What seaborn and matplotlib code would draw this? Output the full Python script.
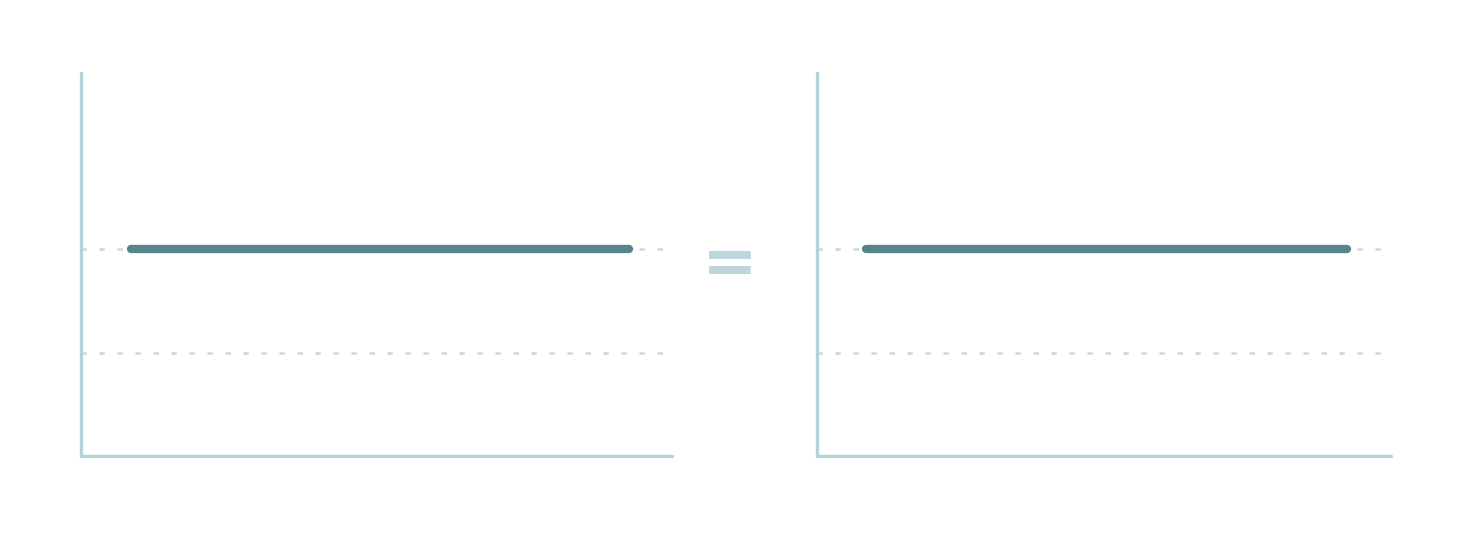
import matplotlib
matplotlib.use("Agg")
import matplotlib.pyplot as plt
import seaborn as sns
import pandas as pd

# Data
panels = ["left", "right"]
line_x_left = [0.85, 9.27]
line_x_right = [0.85, 9.23]
line_y = [2, 2]
grid_levels = [1, 2]
y_max = 3.7
x_max = 10

spine_color = "#b3d2d9"
grid_color = "#c3dde2"
line_color = "#55848c"
eq_color = "#bcd6dc"

sns.set_theme(style="white")
plt.rcParams['font.family'] = ['DejaVu Sans']

fig = plt.figure(figsize=(14.61, 5.40), dpi=100)
ax_l = fig.add_axes([0.0554, 0.1556, 0.4045, 0.709])
ax_r = fig.add_axes([0.5592, 0.1556, 0.3929, 0.709])

for ax, xs in [(ax_l, line_x_left), (ax_r, line_x_right)]:
    df = pd.DataFrame({"x": xs, "y": line_y})
    for g in grid_levels:
        ax.axhline(g, color=grid_color, lw=1.8, linestyle=(0, (2.2, 5.0)), zorder=1)
    sns.lineplot(data=df, x="x", y="y", ax=ax, color=line_color, lw=6.0,
                 solid_capstyle="round", zorder=3)
    ax.set_xlim(0, x_max)
    ax.set_ylim(0, y_max)
    ax.set_xticks([])
    ax.set_yticks([])
    ax.set_xlabel("")
    ax.set_ylabel("")
    for s in ["top", "right"]:
        ax.spines[s].set_visible(False)
    for s in ["left", "bottom"]:
        ax.spines[s].set_color(spine_color)
        ax.spines[s].set_linewidth(2.4)
        ax.spines[s].set_capstyle("round")
    ax.set_facecolor("none")

fig.text(729.5 / 1461, 1 - 265 / 540, "=", fontsize=48, fontweight="bold",
         color=eq_color, ha="center", va="center")

fig.savefig("out.png", dpi=100, facecolor="white")
